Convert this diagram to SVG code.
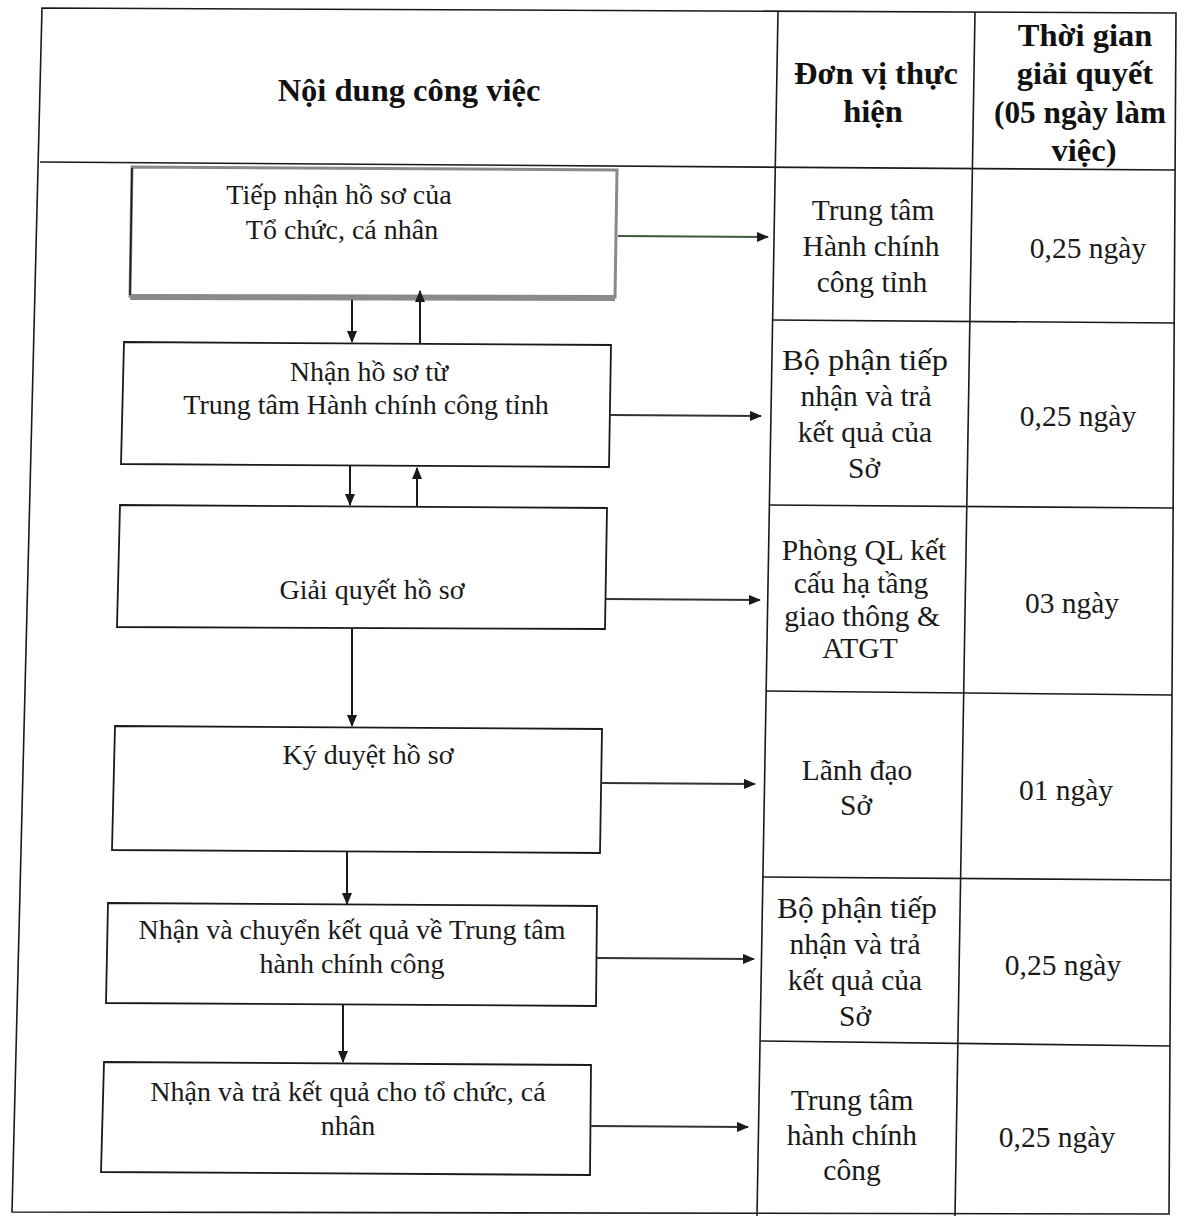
<svg xmlns="http://www.w3.org/2000/svg" width="1187" height="1223" viewBox="0 0 1187 1223">
<style>
.ln{stroke:#1a1a1a;stroke-width:1.6;fill:none}
.bx{stroke:#1a1a1a;stroke-width:1.8;fill:#fff}
.t{font-family:"Liberation Serif","Times New Roman",serif;font-size:28px;fill:#1a1a1a;text-anchor:middle}
.c{font-family:"Liberation Serif","Times New Roman",serif;font-size:29.5px;fill:#1a1a1a;text-anchor:middle}
.h{font-family:"Liberation Serif","Times New Roman",serif;font-size:32.5px;font-weight:bold;fill:#111;text-anchor:middle}
.ar{stroke:#1a1a1a;stroke-width:2;fill:none;marker-end:url(#ah)}
.ah{stroke:#333;stroke-width:2;fill:none;marker-end:url(#ah)}
</style>
<defs>
<marker id="ah" viewBox="0 0 12 10" refX="11" refY="5" markerWidth="12" markerHeight="10" markerUnits="userSpaceOnUse" orient="auto">
<path d="M0,0 L12,5 L0,10 Z" fill="#1a1a1a"/>
</marker>
</defs>
<rect width="1187" height="1223" fill="#fff"/>
<g id="table">
<polygon class="ln" points="42,8 1176,13 1169,1214 12,1212"/>
<line class="ln" x1="40" y1="162" x2="1175" y2="170"/>
<line class="ln" x1="778" y1="11" x2="757" y2="1216"/>
<line class="ln" x1="975" y1="12" x2="955" y2="1216"/>
<line class="ln" x1="772" y1="320" x2="1175" y2="323"/>
<line class="ln" x1="769" y1="505" x2="1174" y2="508"/>
<line class="ln" x1="766" y1="691" x2="1172" y2="695"/>
<line class="ln" x1="762" y1="877" x2="1171" y2="880"/>
<line class="ln" x1="760" y1="1041" x2="1170" y2="1046"/>
</g>
<g id="header">
<text class="h" x="409" y="101">Nội dung công việc</text>
<text class="h" x="876" y="84">Đơn vị thực</text>
<text class="h" x="873" y="122">hiện</text>
<text class="h" x="1085" y="46">Thời gian</text>
<text class="h" x="1085" y="84">giải quyết</text>
<text class="h" x="1080" y="123" textLength="172" lengthAdjust="spacingAndGlyphs">(05 ngày làm</text>
<text class="h" x="1084" y="161">việc)</text>
</g>
<g id="n1">
<polygon points="132,167 617,170 615,297 130,296" fill="#fff" stroke="#8a8a8a" stroke-width="3"/>
<line x1="130" y1="297" x2="615" y2="298" stroke="#8a8a8a" stroke-width="6"/>
<line x1="132" y1="168" x2="130" y2="295" stroke="#1a1a1a" stroke-width="1.6"/>
<text class="t" x="339" y="204">Tiếp nhận hồ sơ của</text>
<text class="t" x="342" y="239">Tổ chức, cá nhân</text>
</g>
<g id="n2">
<polygon class="bx" points="124,342 611,345 609,467 121,464"/>
<text class="t" x="369" y="381">Nhận hồ sơ từ</text>
<text class="t" x="366" y="414">Trung tâm Hành chính công tỉnh</text>
</g>
<g id="n3">
<polygon class="bx" points="120,505 607,508 605,629 117,627"/>
<text class="t" x="372" y="599">Giải quyết hồ sơ</text>
</g>
<g id="n4">
<polygon class="bx" points="115,726 602,729 600,853 112,850"/>
<text class="t" x="368" y="764">Ký duyệt hồ sơ</text>
</g>
<g id="n5">
<polygon class="bx" points="108,903 597,906 596,1006 106,1003"/>
<text class="t" x="352" y="939">Nhận và chuyển kết quả về Trung tâm</text>
<text class="t" x="352" y="973">hành chính công</text>
</g>
<g id="n6">
<polygon class="bx" points="104,1062 591,1065 590,1175 101,1172"/>
<text class="t" x="348" y="1101">Nhận và trả kết quả cho tổ chức, cá</text>
<text class="t" x="348" y="1135">nhân</text>
</g>
<g id="cells">
<text class="c" x="873" y="220">Trung tâm</text>
<text class="c" x="871" y="256">Hành chính</text>
<text class="c" x="872" y="292">công tỉnh</text>
<text class="c" x="1088" y="258">0,25 ngày</text>
<text class="c" x="865" y="370" textLength="166" lengthAdjust="spacingAndGlyphs">Bộ phận tiếp</text>
<text class="c" x="866" y="406">nhận và trả</text>
<text class="c" x="865" y="442">kết quả của</text>
<text class="c" x="864" y="478">Sở</text>
<text class="c" x="1078" y="426">0,25 ngày</text>
<text class="c" x="864" y="560">Phòng QL kết</text>
<text class="c" x="861" y="593">cấu hạ tầng</text>
<text class="c" x="862" y="626">giao thông &amp;</text>
<text class="c" x="860" y="658">ATGT</text>
<text class="c" x="1072" y="613">03 ngày</text>
<text class="c" x="857" y="780">Lãnh đạo</text>
<text class="c" x="856" y="815">Sở</text>
<text class="c" x="1066" y="800">01 ngày</text>
<text class="c" x="857" y="918" textLength="160" lengthAdjust="spacingAndGlyphs">Bộ phận tiếp</text>
<text class="c" x="855" y="954">nhận và trả</text>
<text class="c" x="855" y="990">kết quả của</text>
<text class="c" x="855" y="1026">Sở</text>
<text class="c" x="1063" y="975">0,25 ngày</text>
<text class="c" x="852" y="1110">Trung tâm</text>
<text class="c" x="852" y="1145">hành chính</text>
<text class="c" x="852" y="1180">công</text>
<text class="c" x="1057" y="1147">0,25 ngày</text>
</g>
<g id="connectors">
<line class="ar" x1="352" y1="300" x2="352" y2="342"/>
<line class="ar" x1="420" y1="343" x2="420" y2="291"/>
<line class="ar" x1="350" y1="466" x2="350" y2="505"/>
<line class="ar" x1="417" y1="507" x2="417" y2="468"/>
<line class="ar" x1="352" y1="629" x2="352" y2="726"/>
<line class="ar" x1="347" y1="852" x2="347" y2="904"/>
<line class="ar" x1="343" y1="1005" x2="343" y2="1062"/>
<line class="ah" x1="618" y1="236" x2="768" y2="237" style="stroke:#3a5a3a"/>
<line class="ah" x1="610" y1="415" x2="761" y2="416"/>
<line class="ah" x1="606" y1="599" x2="760" y2="600"/>
<line class="ah" x1="601" y1="783" x2="755" y2="784"/>
<line class="ah" x1="597" y1="958" x2="754" y2="959"/>
<line class="ah" x1="590" y1="1126" x2="748" y2="1127"/>
</g>
</svg>
